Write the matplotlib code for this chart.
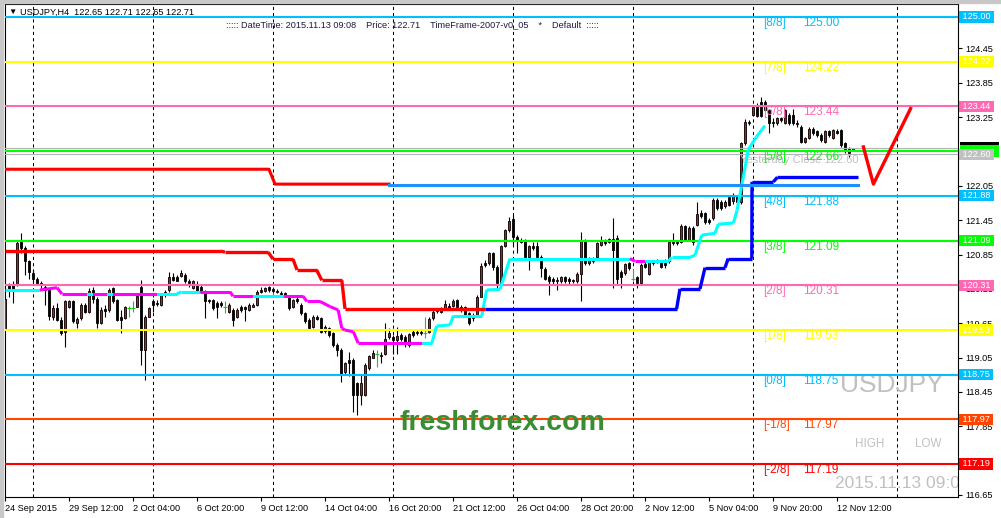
import numpy as np
import matplotlib.pyplot as plt
from matplotlib.patches import Rectangle

plt.rcParams['font.family'] = ['Liberation Sans', 'DejaVu Sans']

# USDJPY H4 candles, bar 0 = 24 Sep 2015 20:00
opens = [119.55, 120.32, 120.32, 120.32, 121.06, 120.96, 120.73, 120.52, 120.43, 120.35,
         120.29, 120.23, 119.76, 119.91, 119.71, 119.50, 119.94, 120.03, 119.66, 119.74,
         119.97, 119.85, 120.23, 120.08, 119.65, 119.89, 119.88, 120.26, 120.06, 119.76,
         119.74, 119.91, 119.91, 119.94, 120.29, 119.18, 119.76, 120.03, 120.01, 119.97,
         120.20, 120.23, 120.46, 120.46, 120.47, 120.49, 120.39, 120.26, 120.32, 120.29,
         120.20, 120.06, 120.06, 120.00, 120.00, 119.93, 119.85, 119.88, 119.76, 119.94,
         119.93, 119.88, 119.94, 119.97, 120.23, 120.22, 120.29, 120.24, 120.21, 120.18,
         120.17, 120.11, 119.93, 120.08, 119.97, 119.82, 119.71, 119.59, 119.75, 119.74,
         119.52, 119.56, 119.47, 119.27, 119.18, 118.80, 119.01, 119.01, 118.60, 118.40,
         118.40, 118.86, 119.05, 119.12, 119.07, 119.12, 119.40, 119.41, 119.36, 119.44,
         119.41, 119.27, 119.49, 119.49, 119.50, 119.48, 119.50, 119.74, 119.86, 119.91,
         119.91, 119.95, 119.95, 120.06, 119.94, 119.93, 119.82, 119.74, 119.76, 120.11,
         120.70, 120.70, 120.87, 120.64, 120.35, 120.99, 121.27, 121.47, 121.15, 121.07,
         121.09, 120.81, 120.99, 121.00, 120.81, 120.60, 120.46, 120.42, 120.38, 120.38,
         120.45, 120.42, 120.38, 120.38, 120.51, 121.09, 120.70, 120.78, 120.81, 121.02,
         121.09, 121.07, 121.12, 121.13, 120.55, 120.52, 120.70, 120.43, 120.45, 120.35,
         120.68, 120.51, 120.73, 120.73, 120.73, 120.71, 120.73, 121.05, 121.07, 121.06,
         121.34, 121.11, 121.32, 121.37, 121.58, 121.57, 121.45, 121.48, 121.80, 121.77,
         121.69, 121.86, 121.79, 121.87, 121.77, 122.79, 123.17, 123.29, 123.46, 123.52,
         123.52, 123.38, 123.17, 123.14, 123.23, 123.14, 123.29, 123.29, 123.15, 123.08,
         122.82, 122.88, 123.05, 123.00, 122.94, 122.82, 123.00, 122.88, 123.01, 123.03,
         122.79, 122.69, 122.65]
highs = [120.08, 120.36, 120.38, 121.10, 121.22, 120.99, 120.75, 120.58, 120.46, 120.38,
         120.32, 120.26, 119.97, 120.00, 119.76, 120.06, 120.06, 120.06, 119.76, 120.00,
         120.00, 120.26, 120.29, 120.11, 119.94, 119.97, 120.26, 120.29, 120.08, 119.88,
         119.95, 119.95, 120.03, 120.14, 120.41, 119.79, 119.94, 120.08, 120.06, 120.17,
         120.23, 120.55, 120.52, 120.49, 120.58, 120.52, 120.42, 120.41, 120.38, 120.32,
         120.23, 120.08, 120.08, 120.03, 120.03, 120.03, 120.00, 119.91, 119.91, 119.97,
         119.95, 120.00, 120.00, 120.23, 120.29, 120.29, 120.30, 120.29, 120.24, 120.22,
         120.20, 120.14, 120.08, 120.11, 120.00, 119.85, 119.74, 119.79, 119.79, 119.76,
         119.62, 119.59, 119.50, 119.30, 119.21, 118.98, 119.15, 119.04, 118.63, 118.77,
         118.95, 119.09, 119.18, 119.19, 119.15, 119.65, 119.56, 119.44, 119.59, 119.47,
         119.44, 119.48, 119.53, 119.53, 119.53, 119.76, 119.76, 119.88, 119.91, 119.94,
         120.06, 120.00, 120.07, 120.08, 119.97, 119.95, 119.85, 119.82, 120.14, 120.70,
         120.75, 120.90, 120.90, 120.67, 121.02, 121.29, 121.51, 121.54, 121.19, 121.13,
         121.12, 121.02, 121.07, 121.07, 120.84, 120.64, 120.49, 120.45, 120.46, 120.47,
         120.47, 120.46, 120.43, 120.55, 121.25, 121.12, 120.81, 120.81, 121.07, 121.17,
         121.12, 121.13, 121.48, 121.19, 120.58, 120.71, 120.72, 120.59, 120.47, 120.70,
         120.73, 120.75, 120.75, 120.78, 120.75, 120.78, 121.07, 121.22, 121.10, 121.38,
         121.37, 121.35, 121.35, 121.77, 121.63, 121.60, 121.48, 121.83, 121.83, 121.80,
         121.80, 121.89, 121.92, 121.89, 122.82, 123.21, 123.20, 123.46, 123.49, 123.61,
         123.55, 123.40, 123.23, 123.26, 123.26, 123.40, 123.32, 123.40, 123.20, 123.11,
         122.91, 123.08, 123.08, 123.03, 122.97, 123.03, 123.03, 123.05, 123.04, 123.05,
         122.82, 122.72, 122.71]
lows = [119.54, 120.11, 120.01, 120.30, 120.87, 120.49, 120.43, 120.35, 120.32, 120.26,
        119.97, 119.71, 119.71, 119.68, 119.44, 119.24, 119.91, 119.65, 119.56, 119.71,
        119.82, 119.82, 120.00, 119.56, 119.64, 119.76, 119.85, 120.00, 119.68, 119.47,
        119.72, 119.76, 119.85, 119.93, 118.92, 118.66, 119.75, 119.85, 119.95, 119.95,
        120.11, 120.20, 120.38, 120.38, 120.45, 120.35, 120.29, 120.24, 120.18, 120.17,
        119.74, 120.00, 119.88, 119.74, 119.94, 119.82, 119.82, 119.60, 119.74, 119.85,
        119.68, 119.87, 119.93, 119.95, 120.17, 120.20, 120.20, 120.17, 120.17, 120.14,
        120.11, 119.88, 119.91, 120.00, 119.79, 119.65, 119.54, 119.56, 119.71, 119.47,
        119.47, 119.40, 119.24, 119.07, 118.63, 118.77, 118.72, 118.10, 118.05, 118.22,
        118.37, 118.84, 119.04, 118.89, 118.95, 119.09, 119.38, 119.12, 119.12, 119.33,
        119.24, 119.24, 119.41, 119.44, 119.44, 119.39, 119.48, 119.71, 119.82, 119.83,
        119.89, 119.88, 119.94, 119.91, 119.85, 119.76, 119.62, 119.68, 119.75, 120.10,
        120.64, 120.67, 120.58, 120.26, 120.32, 120.98, 121.25, 121.02, 120.87, 121.05,
        120.78, 120.58, 120.93, 120.78, 120.46, 120.40, 120.14, 120.32, 120.23, 120.35,
        120.35, 120.32, 120.35, 120.35, 120.03, 120.67, 120.67, 120.70, 120.78, 120.99,
        121.02, 121.05, 120.26, 120.32, 120.26, 120.49, 120.58, 120.38, 120.26, 120.32,
        120.61, 120.49, 120.67, 120.70, 120.61, 120.61, 120.70, 121.02, 121.02, 121.05,
        121.09, 121.09, 121.02, 121.34, 121.48, 121.39, 121.38, 121.45, 121.63, 121.63,
        121.66, 121.69, 121.74, 121.72, 121.74, 122.76, 123.11, 123.27, 123.26, 123.26,
        123.35, 122.97, 123.08, 123.11, 123.17, 123.13, 123.11, 123.11, 123.08, 122.79,
        122.79, 122.86, 122.94, 122.91, 122.82, 122.80, 122.91, 122.86, 122.96, 122.73,
        122.62, 122.56, 122.65]
closes = [120.07, 120.25, 120.23, 121.05, 120.96, 120.73, 120.55, 120.43, 120.35, 120.32,
          120.23, 119.78, 119.91, 119.71, 119.47, 120.03, 120.03, 119.68, 119.72, 119.97,
          119.85, 120.21, 120.08, 119.65, 119.88, 119.87, 120.23, 120.03, 119.71, 119.71,
          119.93, 119.91, 119.91, 120.13, 119.18, 119.76, 119.91, 119.97, 119.99, 120.14,
          120.14, 120.46, 120.41, 120.39, 120.52, 120.38, 120.36, 120.38, 120.20, 120.20,
          120.03, 120.03, 119.91, 119.94, 119.97, 119.93, 119.97, 119.71, 119.88, 119.88,
          119.89, 119.97, 119.97, 120.20, 120.20, 120.26, 120.23, 120.22, 120.19, 120.16,
          120.14, 119.91, 120.06, 120.03, 119.82, 119.68, 119.56, 119.76, 119.72, 119.50,
          119.58, 119.44, 119.27, 119.18, 118.77, 118.95, 118.95, 118.40, 118.40, 118.60,
          118.92, 119.07, 119.13, 119.12, 119.09, 119.38, 119.48, 119.36, 119.43, 119.38,
          119.30, 119.46, 119.44, 119.47, 119.47, 119.48, 119.72, 119.84, 119.88, 119.85,
          119.98, 119.91, 120.03, 119.94, 119.88, 119.79, 119.65, 119.79, 120.11, 120.65,
          120.67, 120.87, 120.64, 120.35, 120.99, 121.27, 121.44, 121.16, 121.10, 121.10,
          120.81, 120.99, 120.96, 120.81, 120.61, 120.43, 120.38, 120.38, 120.40, 120.45,
          120.38, 120.38, 120.40, 120.51, 121.10, 120.70, 120.77, 120.73, 121.05, 121.09,
          121.05, 121.12, 120.93, 120.43, 120.46, 120.68, 120.61, 120.43, 120.35, 120.67,
          120.64, 120.73, 120.70, 120.75, 120.64, 120.67, 121.06, 121.07, 121.05, 121.35,
          121.11, 121.32, 121.06, 121.56, 121.52, 121.42, 121.41, 121.80, 121.66, 121.66,
          121.77, 121.72, 121.87, 121.77, 122.79, 123.17, 123.14, 123.43, 123.27, 123.27,
          123.38, 123.14, 123.14, 123.23, 123.20, 123.38, 123.14, 123.14, 123.13, 122.82,
          122.88, 123.05, 122.97, 122.94, 122.85, 123.00, 122.94, 123.03, 122.98, 122.76,
          122.65, 122.63, 122.71]

# Murrey Math levels
mm_names = ['[8/8]', '[7/8]', '[6/8]', '[5/8]', '[4/8]', '[3/8]', '[2/8]', '[1/8]', '[0/8]', '[-1/8]', '[-2/8]']
mm_levels = [125.00, 124.22, 123.44, 122.66, 121.88, 121.09, 120.31, 119.53, 118.75, 117.97, 117.19]
mm_colors = ['#00BFFF', '#FFFF00', '#FF69B4', '#00FF00', '#00BFFF', '#00FF00', '#FF69B4', '#FFFF00',
             '#00BFFF', '#FF4500', '#FF0000']

bid_price = 122.71
yesterday_close = 122.60

# trailing lines (bar position, price, trend of following segment)
mid_bars = [0, 8.75, 13, 14.25, 20.5, 22, 25.5, 27, 38, 43, 44, 48.75, 56.25, 57, 62, 69.5, 74.5,
            75.5, 78.75, 81.25, 83.3, 84.2, 85, 87.1, 88.3, 104.2, 106.7, 107.9, 111.25, 112.1,
            119.2, 120.4, 123.75, 126.25, 156.25, 157.5, 160, 165.8, 166.7, 171.25, 172.5, 174.2,
            177.5, 178.3, 182.1, 183, 184.6, 185.8, 187.9, 189.2, 190, 213.3]
mid_prices = [120.23, 120.23, 120.27, 120.16, 120.16, 120.16, 120.16, 120.16, 120.16, 120.16,
              120.20, 120.20, 120.20, 120.12, 120.12, 120.12, 120.12, 120.03, 120.03, 119.94,
              119.88, 119.56, 119.53, 119.50, 119.30, 119.30, 119.30, 119.60, 119.62, 119.78,
              119.78, 120.23, 120.24, 120.78, 120.78, 120.73, 120.73, 120.73, 120.80, 120.80,
              120.84, 121.19, 121.22, 121.38, 121.40, 121.62, 122.21, 122.68, 122.91, 123.03,
              123.10, 123.10]
mid_trend = "udddududuuudddudddddddddduuuuuuuuudduuuuuuuuuuuuuu"

low_bars = [0, 54, 55, 65.8, 67, 72, 73, 77.9, 79.2, 84.2, 85, 120, 167.9, 168.75, 173.75,
            175, 180, 180.8, 186.7, 186.75, 192.1, 193.1, 213.3]
low_prices = [120.91, 120.91, 120.89, 120.89, 120.77, 120.77, 120.58, 120.58, 120.40, 120.40,
              119.90, 119.90, 119.90, 120.25, 120.25, 120.62, 120.62, 120.78, 120.78, 122.12,
              122.12, 122.20, 122.20]
low_trend = "ddddddddddduuuuuuuuuuu"

top_bars = [0, 66, 67.5, 96]
top_prices = [122.34, 122.34, 122.08, 122.08]
support_bars = [96, 213.3]
support_prices = [122.06, 122.06]

check_bars = [214.6, 217.1, 226.4]
check_prices = [122.73, 122.08, 123.40]

time_bars = [0, 16, 32, 48, 64, 80, 96, 112, 128, 144, 160, 176, 192, 208]
time_labels = ['24 Sep 2015', '29 Sep 12:00', '2 Oct 04:00', '6 Oct 20:00', '9 Oct 12:00',
               '14 Oct 04:00', '16 Oct 20:00', '21 Oct 12:00', '26 Oct 04:00', '28 Oct 20:00',
               '2 Nov 12:00', '5 Nov 04:00', '9 Nov 20:00', '12 Nov 12:00']
grid_bars = [7, 37, 67, 97, 127, 157, 187, 223]
price_ticks = [116.65, 117.25, 117.85, 118.45, 119.05, 119.65, 120.25, 120.85, 121.45,
               122.05, 122.65, 123.25, 123.85, 124.45, 125.05]
hidden_ticks = [122.65, 125.05]

W, H = 1001, 518
fig = plt.figure(figsize=(W / 100, H / 100), dpi=100)
L, R, T, B = 4.5, 958, 4, 497
ax = fig.add_axes([L / W, (H - B) / H, (R - L) / W, (B - T) / H])
ax.set_xlim(-0.125, 238.25)
ax.set_ylim(116.613, 125.227)

# window frame
fig.patches.append(Rectangle((0, 1 - 3 / H), 1, 3 / H, transform=fig.transFigure,
                             color='#c8c8c8', zorder=0))
fig.patches.append(Rectangle((0, 0), 3 / W, 1, transform=fig.transFigure,
                             color='#c8c8c8', zorder=0))

for s in ax.spines.values():
    s.set_color('black')
    s.set_linewidth(0.8)

for g in grid_bars:
    ax.axvline(g, color='black', lw=0.75, ls=(0, (3, 3)), zorder=1)

# candles
x = np.arange(len(opens))
o = np.array(opens)
h = np.array(highs)
lo = np.array(lows)
c = np.array(closes)
up = c > o + 0.004
dn = c < o - 0.004
dj = ~(up | dn)

ax.vlines(x[~dj], lo[~dj], h[~dj], color='black', lw=0.8, zorder=3)
ax.bar(x[up], np.maximum(c[up] - o[up], 0.018), bottom=o[up], width=0.7,
       color='#ff0000', edgecolor='black', lw=0.6, zorder=4)
ax.bar(x[dn], np.maximum(o[dn] - c[dn], 0.018), bottom=c[dn], width=0.7,
       color='black', edgecolor='black', lw=0.6, zorder=4)
ax.vlines(x[dj], lo[dj], h[dj], color='#22c022', lw=0.8, zorder=4)
ax.hlines(c[dj], x[dj] - 0.45, x[dj] + 0.45, color='#22c022', lw=0.8, zorder=4)

# murrey lines and labels
for name, lvl, col in zip(mm_names, mm_levels, mm_colors):
    ax.axhline(lvl, color=col, lw=1.5, zorder=5)
    ax.text(189.6, lvl, name, color=col, fontsize=8.5, va='top', ha='left', zorder=7)
    ax.text(199.5, lvl, '%.2f' % lvl, color=col, fontsize=8.5, va='top', ha='left', zorder=7)

ax.axhline(bid_price, color='#b4b4b4', lw=0.8, zorder=5)
ax.axhline(yesterday_close, color='#b4b4b4', lw=0.8, zorder=5)
ax.text(183.75, yesterday_close - 0.02, 'Yesterday Close %.2f' % yesterday_close,
        color='#c0c0c0', fontsize=8, va='top', ha='left', zorder=6)

# trailing stop lines
colors = {'u': '#00FFFF', 'd': '#FF00FF'}
for k, t in enumerate(mid_trend):
    ax.plot(mid_bars[k:k + 2], mid_prices[k:k + 2], color=colors[t], lw=2.2,
            solid_capstyle='butt', zorder=6)
colors = {'u': '#0000FF', 'd': '#FF0000'}
for k, t in enumerate(low_trend):
    ax.plot(low_bars[k:k + 2], low_prices[k:k + 2], color=colors[t], lw=2.4,
            solid_capstyle='butt', zorder=6)
ax.plot(top_bars, top_prices, color='#FF0000', lw=2.2, zorder=6)
ax.plot(support_bars, support_prices, color='#1E90FF', lw=2.2, zorder=6)
ax.plot(check_bars, check_prices, color='#FF0000', lw=2.4, zorder=6)

# watermark texts
ax.text(98.75, 117.78, 'freshforex.com', color='#3a8c32', fontsize=20.5, fontweight='bold',
        ha='left', va='baseline', zorder=7)
ax.text(208.75, 118.45, 'USDJPY', color='#c0c0c0', fontsize=19, ha='left', va='baseline', zorder=2)
ax.text(212.5, 117.48, 'HIGH', color='#c0c0c0', fontsize=8.4, ha='left', va='baseline', zorder=2)
ax.text(227.5, 117.48, 'LOW', color='#c0c0c0', fontsize=8.4, ha='left', va='baseline', zorder=2)
ax.text(207.5, 116.775, '2015.11.13 09:08', color='#c0c0c0', fontsize=12.5, ha='left',
        va='baseline', zorder=2, clip_on=True)

# header
ax.text(3.5 / 953.5, 1 - 8.7 / 493, '\u25bc', transform=ax.transAxes, fontsize=6,
        va='center', ha='left', color='black')
ax.text(16 / 953.5, 1 - 8.7 / 493, 'USDJPY,H4  122.65 122.71 122.65 122.71',
        transform=ax.transAxes, fontsize=6.6, va='center', ha='left', color='black')
ax.text(221.5 / 953.5, 1 - 21 / 493,
        '::::: DateTime: 2015.11.13 09:08    Price: 122.71    TimeFrame-2007-v0_05    *    Default  :::::',
        transform=ax.transAxes, fontsize=6.6, va='center', ha='left', color='#1a1a40')

# axes ticks
ax.yaxis.tick_right()
ax.set_yticks(price_ticks)
ax.set_yticklabels(['' if p in hidden_ticks else '%.2f' % p for p in price_ticks])
ax.set_xticks(time_bars)
ax.set_xticklabels(time_labels, ha='left')
ax.tick_params(axis='both', labelsize=6.6, length=3, width=0.8, color='black', pad=2)

# right-axis price boxes
ytr = ax.get_yaxis_transform()
box_w = 39 / 953.5
for lvl, col in [(bid_price, 'black'), (122.66, '#00FF00')]:
    ax.add_patch(Rectangle((1.002, lvl - 0.1), box_w, 0.2, transform=ytr, fc=col, ec='none',
                           clip_on=False, zorder=9))
boxes = [(lvl, col) for lvl, col in zip(mm_levels, mm_colors) if lvl != 122.66]
for lvl, col in boxes + [(yesterday_close, '#c0c0c0')]:
    ax.text(1.002, lvl, ' %.2f ' % lvl, transform=ytr, fontsize=6.6,
            color='white', ha='left', va='center', clip_on=False, zorder=10,
            bbox=dict(boxstyle='square,pad=0.12', fc=col, ec='none'))

fig.savefig('out.png', dpi=100)
